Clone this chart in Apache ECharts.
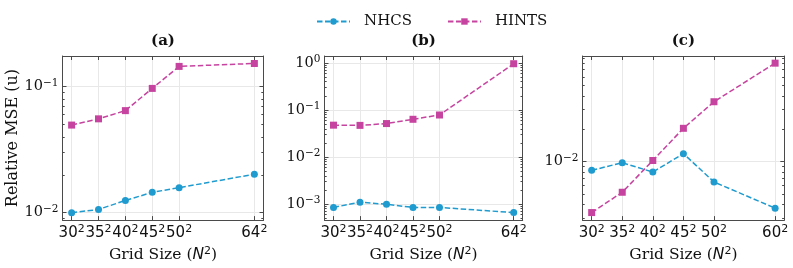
<!DOCTYPE html>
<html><head><meta charset="utf-8">
<script src="https://cdn.jsdelivr.net/npm/echarts@6/dist/echarts.min.js"></script>
<style>html,body{margin:0;padding:0;background:#fff}#c{width:793px;height:268px}</style>
</head><body><div id="c"></div>
<script>
// ---- data ----
const seriesNames = ['NHCS', 'HINTS'];
const panelTitles = ['(a)', '(b)', '(c)'];
const xAxisTitle = 'Grid Size';
const yAxisTitle = 'Relative MSE (u)';

const gridSizesAB = [30, 35, 40, 45, 50, 64];
const gridSizesC = [30, 35, 40, 45, 50, 60];

const aNHCS  = [0.0100, 0.0106, 0.0125, 0.0145, 0.0158, 0.0202];
const aHINTS = [0.0496, 0.0556, 0.0646, 0.0970, 0.1450, 0.1530];
const bNHCS  = [0.00085, 0.00110, 0.00099, 0.00085, 0.00085, 0.00066];
const bHINTS = [0.0477, 0.0472, 0.0516, 0.0636, 0.0785, 0.966];
const cNHCS  = [0.00828, 0.00973, 0.00798, 0.0118, 0.00647, 0.00371];
const cHINTS = [0.00338, 0.00520, 0.0102, 0.0202, 0.0355, 0.0805];

const yTickLabelsA = [0.01, 0.1];
const yTickLabelsB = [0.001, 0.01, 0.1, 1];
const yTickLabelsC = [0.01];

// ---- layout / style ----
const panels = [
  {x: gridSizesAB, nhcs: aNHCS, hints: aHINTS, yTicks: yTickLabelsA},
  {x: gridSizesAB, nhcs: bNHCS, hints: bHINTS, yTicks: yTickLabelsB},
  {x: gridSizesC,  nhcs: cNHCS, hints: cHINTS, yTicks: yTickLabelsC}
];
const layout = [
  {left: 62.5, width: 201, xMin: 28.3, xMax: 65.7, yMin: 0.00873, yMax: 0.1754},
  {left: 324.5, width: 198.2, xMin: 28.3, xMax: 65.7, yMin: 0.000457, yMax: 1.41},
  {left: 582.5, width: 201.8, xMin: 28.5, xMax: 61.5, yMin: 0.00288, yMax: 0.0937}
];
const TOP = 56, HEIGHT = 166;
const colors = {NHCS: '#1f9bcf', HINTS: '#c6449f'};
const frame = '#4a4a4a';
const gridLine = '#e8e8e8';
const serif = 'DejaVu Serif';
const sans = 'DejaVu Sans';

function minorTicks(lo, hi) {
  const out = [];
  for (let e = -5; e <= 1; e++) {
    for (let m = 2; m <= 9; m++) {
      const v = +(m * Math.pow(10, e)).toPrecision(3);
      if (v > lo && v < hi) out.push(v);
    }
  }
  return out;
}
function yFmt(v) {
  const e = Math.round(Math.log10(v));
  return '{b|10}{s|' + (e < 0 ? '\u2212' + (-e) : String(e)) + '}';
}
const yRich = {
  b: {fontFamily: serif, fontSize: 14.5, color: '#111', lineHeight: 18},
  s: {fontFamily: serif, fontSize: 10.5, color: '#111', verticalAlign: 'top', lineHeight: 11}
};
const xRich = {
  b: {fontFamily: sans, fontSize: 15, color: '#111', lineHeight: 18},
  s: {fontFamily: sans, fontSize: 11, color: '#111', verticalAlign: 'top', lineHeight: 11}
};

const grids = [], xAxes = [], yAxes = [], series = [], titles = [];
layout.forEach((L, g) => {
  const P = panels[g];
  grids.push({left: L.left, top: TOP, width: L.width, height: HEIGHT, containLabel: false});
  titles.push({text: panelTitles[g], left: L.left + L.width / 2, top: 34, textAlign: 'center', padding: 0,
    textStyle: {fontFamily: serif, fontWeight: 'bold', fontSize: 15, color: '#111'}});
  const minors = minorTicks(L.yMin, L.yMax);
  const base = {type: 'log', logBase: 10, min: L.yMin, max: L.yMax, gridIndex: g};
  yAxes.push(Object.assign({}, base, {
    position: 'left',
    name: g === 0 ? yAxisTitle : '', nameLocation: 'middle', nameGap: 40, nameRotate: 90,
    nameTextStyle: {fontFamily: serif, fontSize: 16, color: '#111'},
    axisLine: {show: true, lineStyle: {color: frame, width: 1}},
    axisTick: {show: true, inside: true, length: 4, customValues: P.yTicks, lineStyle: {color: frame}},
    axisLabel: {show: true, customValues: P.yTicks, formatter: yFmt, rich: yRich, margin: 4},
    splitLine: {show: true, lineStyle: {color: gridLine, width: 1}}
  }));
  yAxes.push(Object.assign({}, base, {
    position: 'left',
    axisLine: {show: false},
    axisTick: {show: true, inside: true, length: 2.2, customValues: minors, lineStyle: {color: frame}},
    axisLabel: {show: false}, splitLine: {show: false}
  }));
  yAxes.push(Object.assign({}, base, {
    position: 'right',
    axisLine: {show: true, lineStyle: {color: frame, width: 1}},
    axisTick: {show: true, inside: true, length: 4, customValues: P.yTicks, lineStyle: {color: frame}},
    axisLabel: {show: false}, splitLine: {show: false}
  }));
  yAxes.push(Object.assign({}, base, {
    position: 'right',
    axisLine: {show: false},
    axisTick: {show: true, inside: true, length: 2.2, customValues: minors, lineStyle: {color: frame}},
    axisLabel: {show: false}, splitLine: {show: false}
  }));
  xAxes[g] = {
    type: 'value', gridIndex: g, min: L.xMin, max: L.xMax, position: 'bottom',
    name: xAxisTitle + ' ({i|N}{s|2})', nameLocation: 'middle', nameGap: 21,
    nameTextStyle: {fontFamily: serif, fontSize: 15.5, color: '#111',
      rich: {i: {fontFamily: sans, fontStyle: 'italic', fontSize: 15.5, color: '#111', lineHeight: 19},
             s: {fontFamily: sans, fontSize: 11, color: '#111', verticalAlign: 'top', lineHeight: 11}}},
    axisLine: {show: true, onZero: false, lineStyle: {color: frame, width: 1}},
    axisTick: {show: true, inside: true, length: 4, customValues: P.x, lineStyle: {color: frame}},
    axisLabel: {show: true, customValues: P.x, formatter: v => '{b|' + v + '}{s|2}', rich: xRich, margin: 4},
    splitLine: {show: true, lineStyle: {color: gridLine, width: 1}}
  };
  xAxes[g + 3] = {
    type: 'value', gridIndex: g, min: L.xMin, max: L.xMax, position: 'top',
    axisLine: {show: true, onZero: false, lineStyle: {color: frame, width: 1}},
    axisTick: {show: true, inside: true, length: 4, customValues: P.x, lineStyle: {color: frame}},
    axisLabel: {show: false}, splitLine: {show: false}
  };
  [['NHCS', P.nhcs, 'circle'], ['HINTS', P.hints, 'rect']].forEach(([nm, vals, sym]) => {
    series.push({
      type: 'line', name: nm, xAxisIndex: g, yAxisIndex: 4 * g,
      data: P.x.map((xv, i) => [xv, vals[i]]),
      symbol: sym, symbolSize: 7, showSymbol: true,
      lineStyle: {type: [5.5, 2.5], width: 1.5, color: colors[nm]},
      itemStyle: {color: colors[nm]}, z: 3
    });
  });
});

const chart = echarts.init(document.getElementById('c'), null, {renderer: 'canvas'});
chart.setOption({
  animation: false,
  backgroundColor: '#fff',
  title: titles,
  legend: {data: seriesNames, left: 311, top: 9, itemWidth: 33, itemHeight: 8, itemGap: 35,
    textStyle: {fontFamily: serif, fontSize: 15, color: '#111', padding: [0, 0, 0, 9]}},
  grid: grids, xAxis: xAxes, yAxis: yAxes, series: series
});
</script></body></html>
